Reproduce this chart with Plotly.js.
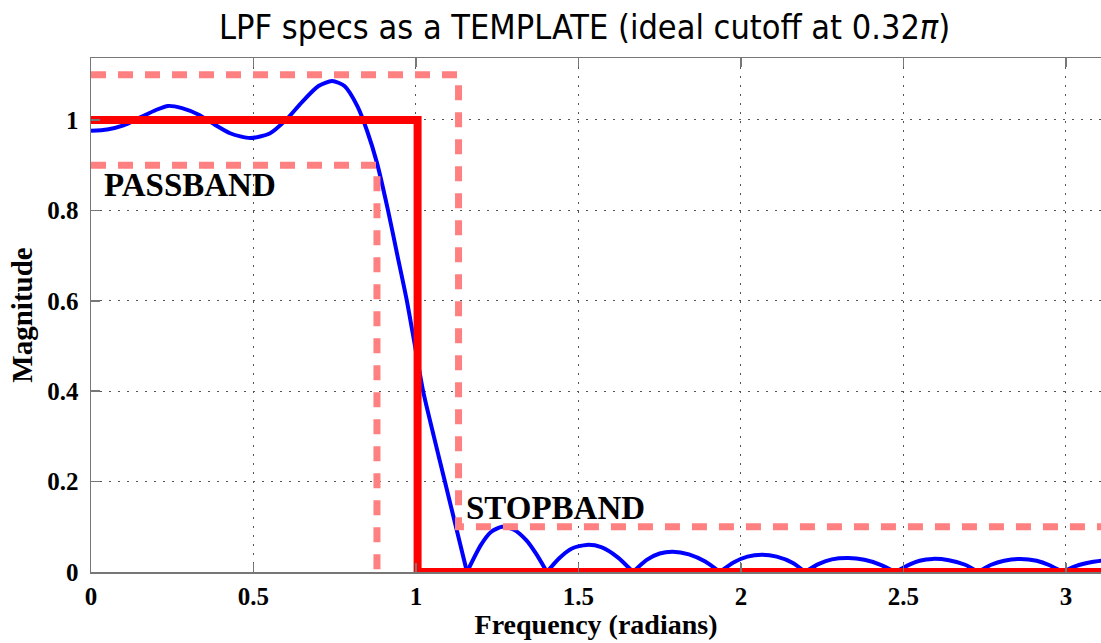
<!DOCTYPE html>
<html>
<head>
<meta charset="utf-8">
<script src="https://cdn.plot.ly/plotly-3.0.1.min.js"></script>
<style>html,body{margin:0;padding:0;background:#fff;}#chart{width:1101px;height:643px;}</style>
</head>
<body>
<div id="chart"></div>
<script>
const freq = [0, 0.05, 0.1, 0.15, 0.2, 0.237, 0.28, 0.33, 0.38, 0.43, 0.49, 0.55, 0.6, 0.65, 0.7, 0.742, 0.78, 0.82, 0.85, 0.88, 0.914, 0.943, 0.972, 0.997, 1.022, 1.055, 1.089, 1.123, 1.157,
  1.2, 1.23, 1.265, 1.3, 1.34, 1.37, 1.403,
  1.44, 1.48, 1.525, 1.57, 1.62, 1.668,
  1.71, 1.75, 1.79, 1.84, 1.89, 1.935,
  1.98, 2.02, 2.065, 2.11, 2.16, 2.197,
  2.24, 2.28, 2.33, 2.38, 2.43, 2.475,
  2.52, 2.55, 2.59, 2.64, 2.69, 2.73,
  2.77, 2.81, 2.86, 2.91, 2.95, 2.99,
  3.03, 3.08, 3.11];
const magnitude = [0.976, 0.979, 0.988, 1.005, 1.022, 1.031, 1.026, 1.012, 0.99, 0.97, 0.960, 0.970, 1.0, 1.04, 1.075, 1.086, 1.075, 1.03, 0.975, 0.905, 0.80, 0.70, 0.60, 0.50, 0.40, 0.30, 0.20, 0.10, 0.0,
  0.06, 0.088, 0.10, 0.094, 0.07, 0.04, 0,
  0.03, 0.052, 0.060, 0.055, 0.033, 0,
  0.027, 0.041, 0.045, 0.039, 0.023, 0,
  0.022, 0.034, 0.038, 0.034, 0.02, 0,
  0.018, 0.028, 0.031, 0.027, 0.016, 0,
  0.017, 0.025, 0.029, 0.026, 0.016, 0,
  0.016, 0.025, 0.029, 0.025, 0.015, 0,
  0.013, 0.022, 0.025];

// Ideal LPF (cutoff 0.32*pi)
const idealX = [0, 1.005, 1.005, 3.1416];
const idealY = [1, 1, 0, 0];

// Specification template (dashed)
const upperSpecX = [0, 1.131, 1.131, 3.1416];
const upperSpecY = [1.1, 1.1, 0.1, 0.1];
const lowerSpecX = [0, 0.88, 0.88];
const lowerSpecY = [0.9, 0.9, 0];

const xTicks = [0, 0.5, 1, 1.5, 2, 2.5, 3];
const yTicks = [0, 0.2, 0.4, 0.6, 0.8, 1];
const bandLabels = ['PASSBAND', 'STOPBAND'];
const bandLabelX = [0.035, 1.148];
const bandLabelY = [0.856, 0.142];

const blueLine = {color: '#0000ff', width: 4, shape: 'spline', smoothing: 0.7};
// split the response into lobes at its zeros so the nulls stay sharp
const traces = [];
let segX = [], segY = [];
for (let i = 0; i < freq.length; i++) {
  segX.push(freq[i]); segY.push(magnitude[i]);
  if (magnitude[i] === 0 && i > 0 && i < freq.length - 1) {
    traces.push({x: segX, y: segY, mode: 'lines', line: blueLine, showlegend: false});
    segX = [freq[i]]; segY = [magnitude[i]];
  }
}
traces.push({x: segX, y: segY, mode: 'lines', line: blueLine, showlegend: false});

const specLine = {color: '#ff8080', width: 7, dash: '15px,12px'};
traces.push({x: upperSpecX, y: upperSpecY, mode: 'lines', line: specLine, showlegend: false});
traces.push({x: lowerSpecX, y: lowerSpecY, mode: 'lines', line: specLine, showlegend: false});
traces.push({x: idealX, y: idealY, mode: 'lines', line: {color: '#ff0000', width: 8}, showlegend: false});

const serif = 'Liberation Serif, Times New Roman, serif';
const layout = {
  width: 1101, height: 643,
  margin: {l: 91, r: 0, t: 58, b: 71},
  paper_bgcolor: '#fff', plot_bgcolor: '#fff',
  title: {text: 'LPF specs as a TEMPLATE (ideal cutoff at 0.32<i>π</i>)', font: {family: 'DejaVu Sans Condensed, Liberation Sans, sans-serif', size: 34, color: '#000'},
    x: 0.531, xref: 'container', xanchor: 'center', y: 0.958, yref: 'container', yanchor: 'middle'},
  xaxis: {range: [0, 3.108], tickvals: xTicks, ticktext: xTicks.map(String),
    showgrid: true, gridcolor: '#555', griddash: '2px,7px', gridwidth: 1,
    zeroline: false, showline: true, linecolor: '#777', linewidth: 1.5, mirror: 'ticks',
    ticks: 'inside', ticklen: 9, tickcolor: '#777', tickwidth: 1.5,
    ticklabelstandoff: 1,
    tickfont: {family: serif, size: 25, color: '#000', weight: 'bold'},
    title: {text: '<b>Frequency (radians)</b>', font: {family: serif, size: 28, color: '#000'}, standoff: 6}},
  yaxis: {range: [0, 1.137], tickvals: yTicks, ticktext: yTicks.map(String),
    showgrid: true, gridcolor: '#555', griddash: '2px,7px', gridwidth: 1,
    zeroline: false, showline: true, linecolor: '#777', linewidth: 1.5,
    ticks: 'inside', ticklen: 9, tickcolor: '#777', tickwidth: 1.5,
    ticklabelstandoff: 6,
    tickfont: {family: serif, size: 25, color: '#000', weight: 'bold'},
    title: {text: '<b>Magnitude</b>', font: {family: serif, size: 29, color: '#000'}, standoff: 6}},
  annotations: bandLabels.map((t, i) => ({x: bandLabelX[i], y: bandLabelY[i], xref: 'x', yref: 'y', text: '<b>' + t + '</b>', showarrow: false,
    xanchor: 'left', yanchor: 'middle', font: {family: serif, size: 33, color: '#000'}})),
  showlegend: false
};
Plotly.newPlot('chart', traces, layout, {staticPlot: true, displayModeBar: false});
</script>
</body>
</html>
